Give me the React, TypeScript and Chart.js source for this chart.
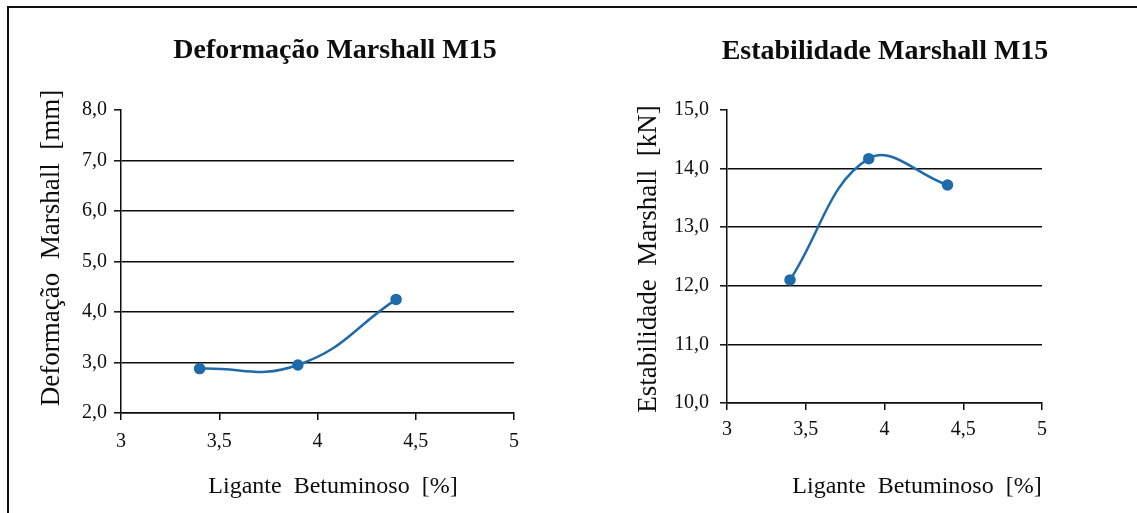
import React, { useEffect, useRef } from "react";
import { Chart, registerables } from "chart.js";

Chart.register(...registerables);

// ---- Data ----
const binderContent = [3.4, 3.9, 4.4];
const deformationValues = [2.88, 2.95, 4.25];
const stabilityValues = [12.1, 14.17, 13.72];

const xTicks = [3, 3.5, 4, 4.5, 5];
const deformationTicks = [2, 3, 4, 5, 6, 7, 8];
const stabilityTicks = [10, 11, 12, 13, 14, 15];

const leftTitle = "Deformação Marshall M15";
const rightTitle = "Estabilidade Marshall M15";
const leftYTitle = "Deformação  Marshall  [mm]";
const rightYTitle = "Estabilidade  Marshall  [kN]";
const xTitle = "Ligante  Betuminoso  [%]";

const SERIF = "'Liberation Serif', 'Times New Roman', serif";
const BLUE = "#1f6aab";
const INK = "#0d0d0d";

const freeText = {
  id: "freeText",
  afterDraw(chart: any, _args: any, opts: any) {
    const ctx = chart.ctx;
    for (const it of opts.items || []) {
      ctx.save();
      ctx.font = it.font;
      ctx.fillStyle = it.color || INK;
      ctx.textAlign = "center";
      ctx.textBaseline = "middle";
      ctx.translate(it.x, it.y);
      if (it.rotation) ctx.rotate(it.rotation);
      ctx.fillText(it.text, 0, 0);
      ctx.restore();
    }
  },
};

const fmt = (v: number, dec: number) =>
  dec === 0 ? String(v).replace(".", ",") : Number(v).toFixed(dec).replace(".", ",");

function buildConfig(p: {
  values: number[];
  yTicks: number[];
  tension: number;
  padding: any;
  yWidth: number;
  xHeight: number;
  yPad: number;
  xPad: number;
  items: any[];
}) {
  const yMin = p.yTicks[0];
  const yMax = p.yTicks[p.yTicks.length - 1];
  return {
    type: "line",
    data: {
      datasets: [
        {
          data: binderContent.map((x, i) => ({ x, y: p.values[i] })),
          borderColor: BLUE,
          backgroundColor: BLUE,
          pointBackgroundColor: BLUE,
          pointBorderColor: BLUE,
          pointRadius: 4.5,
          borderWidth: 2.5,
          tension: p.tension,
          fill: false,
        },
      ],
    },
    options: {
      responsive: false,
      animation: false,
      devicePixelRatio: 1,
      layout: { padding: p.padding },
      plugins: {
        legend: { display: false },
        title: { display: false },
        tooltip: { enabled: false },
        freeText: { items: p.items },
      },
      scales: {
        x: {
          type: "linear",
          min: xTicks[0],
          max: xTicks[xTicks.length - 1],
          afterBuildTicks: (s: any) => {
            s.ticks = xTicks.map((v) => ({ value: v }));
          },
          afterFit: (s: any) => {
            s.height = p.xHeight;
          },
          ticks: {
            callback: (v: any) => fmt(Number(v), 0),
            font: { family: SERIF, size: 20 },
            color: INK,
            padding: p.xPad,
            maxRotation: 0,
          },
          grid: {
            drawOnChartArea: false,
            tickLength: 7,
            tickColor: INK,
            tickWidth: 1.5,
            lineWidth: 1.5,
          },
          border: { color: INK, width: 1.5 },
        },
        y: {
          type: "linear",
          min: yMin,
          max: yMax,
          afterBuildTicks: (s: any) => {
            s.ticks = p.yTicks.map((v) => ({ value: v }));
          },
          afterFit: (s: any) => {
            s.width = p.yWidth;
          },
          ticks: {
            callback: (v: any) => fmt(Number(v), 1),
            font: { family: SERIF, size: 20 },
            color: INK,
            padding: p.yPad,
          },
          grid: {
            color: (c: any) => (c.tick && c.tick.value === yMax ? "rgba(0,0,0,0)" : INK),
            lineWidth: 1.6,
            tickLength: 7,
            tickColor: INK,
            tickWidth: 1.5,
          },
          border: { color: INK, width: 1.5 },
        },
      },
    },
    plugins: [freeText],
  } as any;
}

function ChartCanvas({ config, left, width }: { config: any; left: number; width: number }) {
  const ref = useRef<HTMLCanvasElement | null>(null);
  useEffect(() => {
    if (!ref.current) return;
    const chart = new Chart(ref.current, config);
    return () => chart.destroy();
  }, [config]);
  return (
    <canvas
      ref={ref}
      width={width}
      height={513}
      style={{ position: "absolute", left, top: 0, width, height: 513 }}
    />
  );
}

const leftConfig = buildConfig({
  values: deformationValues,
  yTicks: deformationTicks,
  tension: 0.45,
  padding: { left: 30, right: 53, top: 110, bottom: 0 },
  yWidth: 91,
  xHeight: 100,
  yPad: 7,
  xPad: 10,
  items: [
    { text: leftTitle, x: 335, y: 51, font: `bold 28px ${SERIF}` },
    { text: leftYTitle, x: 52, y: 248, font: `27px ${SERIF}`, rotation: -Math.PI / 2 },
    { text: xTitle, x: 333, y: 487, font: `24px ${SERIF}` },
  ],
});

const rightConfig = buildConfig({
  values: stabilityValues,
  yTicks: stabilityTicks,
  tension: 0.4,
  padding: { left: 60, right: 95, top: 110, bottom: 0 },
  yWidth: 100,
  xHeight: 110,
  yPad: 11,
  xPad: 8,
  items: [
    { text: rightTitle, x: 318, y: 52, font: `bold 28px ${SERIF}` },
    { text: rightYTitle, x: 82, y: 259, font: `27px ${SERIF}`, rotation: -Math.PI / 2 },
    { text: xTitle, x: 350, y: 487, font: `24px ${SERIF}` },
  ],
});

export default function App() {
  return (
    <div
      style={{
        position: "absolute",
        left: 0,
        top: 0,
        width: 1137,
        height: 513,
        overflow: "hidden",
        background: "#ffffff",
      }}
    >
      <div
        style={{
          position: "absolute",
          left: 7,
          top: 6,
          width: 1200,
          height: 600,
          borderLeft: "2px solid #111",
          borderTop: "2px solid #111",
        }}
      />
      <ChartCanvas config={leftConfig} left={0} width={567} />
      <ChartCanvas config={rightConfig} left={567} width={570} />
    </div>
  );
}
